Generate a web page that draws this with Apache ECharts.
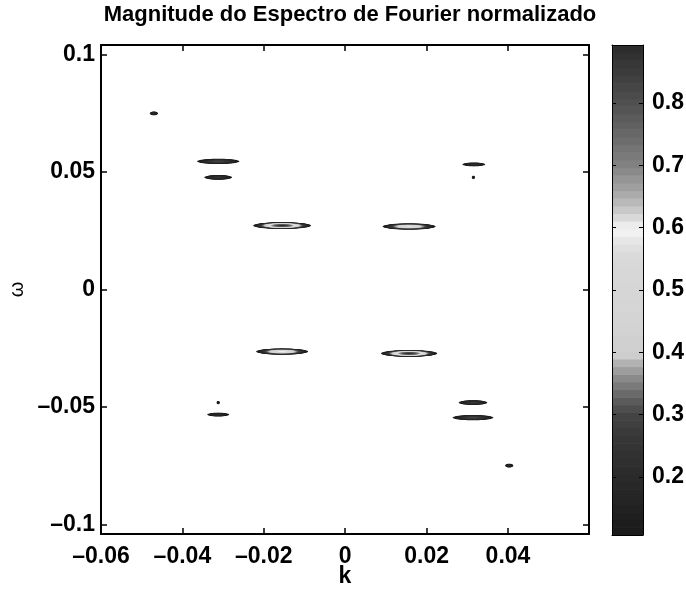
<!DOCTYPE html>
<html><head><meta charset="utf-8">
<script src="https://cdn.jsdelivr.net/npm/echarts@6/dist/echarts.min.js"></script>
<style>html,body{margin:0;padding:0;background:#fff}#c{width:686px;height:589px}</style>
</head><body><div id="c"></div>
<script>
// Spectral peaks: centre (k, omega), half-extent at lowest contour, peak magnitude
const blobK     = [-0.0155, 0.0157, -0.0155, 0.0157, -0.0312, 0.0314, -0.0312, 0.0314, 0.0316, -0.0312, 0.0315, -0.0312, -0.0470, 0.0403];
const blobW     = [ 0.0272, 0.0268, -0.0264, -0.0272, 0.0545, -0.0545, 0.0477, -0.0481, 0.0532, -0.0532, 0.0477, -0.0481, 0.0749, -0.0749];
const blobHalfK = [ 0.0071, 0.0065, 0.0064, 0.0069, 0.0052, 0.0050, 0.0034, 0.0035, 0.0028, 0.0027, 0.0004, 0.0004, 0.0010, 0.0010];
const blobHalfW = [ 0.0014, 0.0013, 0.0013, 0.0014, 0.0011, 0.0011, 0.0010, 0.0010, 0.0008, 0.0008, 0.0007, 0.0007, 0.0008, 0.0008];
const blobPeak  = [ 0.89, 0.58, 0.60, 0.89, 0.30, 0.30, 0.24, 0.26, 0.20, 0.20, 0.14, 0.14, 0.18, 0.18];

const xTicks = [-0.06, -0.04, -0.02, 0, 0.02, 0.04];
const yTicks = [-0.1, -0.05, 0, 0.05, 0.1];
const cbTicks = [0.2, 0.3, 0.4, 0.5, 0.6, 0.7, 0.8];
const cbMin = 0.107, cbMax = 0.893;
const xMin = -0.06, xMax = 0.0599, yMin = -0.104, yMax = 0.104;

// gray colormap (value -> gray level)
const cmapV = [0.107, 0.2, 0.26, 0.3, 0.33, 0.36, 0.38, 0.395, 0.45, 0.55, 0.575, 0.59, 0.605, 0.62, 0.64, 0.66, 0.70, 0.75, 0.80, 0.85, 0.893];
const cmapG = [26, 42, 54, 68, 100, 140, 170, 205, 212, 216, 226, 242, 236, 212, 186, 164, 130, 104, 80, 60, 42];
const NB = 64;
const step = (cbMax - cbMin) / NB;

function grayAt(v) {
  if (v <= cmapV[0]) return cmapG[0];
  for (let i = 1; i < cmapV.length; i++) {
    if (v <= cmapV[i]) {
      const t = (v - cmapV[i - 1]) / (cmapV[i] - cmapV[i - 1]);
      return cmapG[i - 1] + t * (cmapG[i] - cmapG[i - 1]);
    }
  }
  return cmapG[cmapG.length - 1];
}
const bandColor = [];
for (let j = 0; j < NB; j++) {
  const g = Math.round(grayAt(cbMin + (j + 0.5) * step));
  bandColor.push('rgb(' + g + ',' + g + ',' + g + ')');
}
const fmt = v => (v < 0 ? '\u2013' : '') + String(+Math.abs(v).toFixed(4));
const font = '"Liberation Sans", Arial, Helvetica, sans-serif';

function renderBlob(params, api) {
  const i = api.value(2);
  const ck = blobK[i], cw = blobW[i], hk = blobHalfK[i], hw = blobHalfW[i], P = blobPeak[i];
  const denom = Math.log(P / cbMin);
  const children = [];
  const NP = 48;
  for (let j = 0; j < NB; j++) {
    const L = cbMin + j * step;
    if (L >= P) break;
    const r = Math.sqrt(Math.log(P / L) / denom);
    const pts = [];
    for (let t = 0; t < NP; t++) {
      const a = 2 * Math.PI * t / NP;
      pts.push(api.coord([ck + hk * r * Math.cos(a), cw + hw * r * Math.sin(a)]));
    }
    children.push({ type: 'polygon', shape: { points: pts }, style: { fill: bandColor[j], stroke: null } });
  }
  return { type: 'group', children };
}
function renderBand(params, api) {
  const j = api.value(2);
  const p0 = api.coord([0, cbMin + j * step]);
  const p1 = api.coord([1, cbMin + (j + 1) * step]);
  return { type: 'rect', shape: { x: p0[0], y: p1[1], width: p1[0] - p0[0], height: p0[1] - p1[1] + 0.6 },
           style: { fill: bandColor[j], stroke: null } };
}

const labelStyle = { fontSize: 23, fontWeight: 'bold', color: '#000', fontFamily: font };
const axLine = { show: true, onZero: false, lineStyle: { color: '#000', width: 2 } };
const tickIn = vals => ({ show: true, inside: true, length: 6, customValues: vals, lineStyle: { color: '#000', width: 1.5 } });

const chart = echarts.init(document.getElementById('c'), null, { renderer: 'canvas' });
chart.setOption({
  animation: false,
  backgroundColor: '#fff',
  title: { text: 'Magnitude do Espectro de Fourier normalizado', left: 345, textAlign: 'center', top: -1,
           textStyle: { fontSize: 22, fontWeight: 'bold', color: '#000', fontFamily: font } },
  grid: [
    { left: 101, top: 45, width: 488, height: 489, outerBoundsMode: 'none', containLabel: false },
    { left: 612, top: 45, width: 31, height: 490, outerBoundsMode: 'none', containLabel: false }
  ],
  xAxis: [
    { gridIndex: 0, type: 'value', min: xMin, max: xMax, position: 'bottom', z: 10,
      axisLine: axLine, axisTick: tickIn(xTicks), splitLine: { show: false },
      axisLabel: Object.assign({ customValues: xTicks, formatter: fmt, margin: 11, showMaxLabel: true, showMinLabel: true }, labelStyle),
      name: 'k', nameLocation: 'middle', nameGap: 31, nameMoveOverlap: false, nameTextStyle: labelStyle },
    { gridIndex: 0, type: 'value', min: xMin, max: xMax, position: 'top', z: 10,
      axisLine: axLine, axisTick: tickIn(xTicks), axisLabel: { show: false }, splitLine: { show: false } },
    { gridIndex: 1, type: 'value', min: 0, max: 1, position: 'bottom', z: 10,
      axisLine: { show: true, lineStyle: { color: '#000', width: 1 } }, axisTick: { show: false }, axisLabel: { show: false }, splitLine: { show: false } },
    { gridIndex: 1, type: 'value', min: 0, max: 1, position: 'top', z: 10,
      axisLine: { show: true, lineStyle: { color: '#000', width: 1 } }, axisTick: { show: false }, axisLabel: { show: false }, splitLine: { show: false } }
  ],
  yAxis: [
    { gridIndex: 0, type: 'value', min: yMin, max: yMax, position: 'left', z: 10,
      axisLine: axLine, axisTick: tickIn(yTicks), splitLine: { show: false },
      axisLabel: Object.assign({ customValues: yTicks, formatter: fmt, margin: 6 }, labelStyle),
      name: '\u03c9', nameLocation: 'middle', nameGap: 74, nameRotate: 90, nameMoveOverlap: false,
      nameTextStyle: { fontSize: 20, color: '#000', fontFamily: font } },
    { gridIndex: 0, type: 'value', min: yMin, max: yMax, position: 'right', z: 10,
      axisLine: axLine, axisTick: tickIn(yTicks), axisLabel: { show: false }, splitLine: { show: false } },
    { gridIndex: 1, type: 'value', min: cbMin, max: cbMax, position: 'left', z: 10,
      axisLine: { show: true, onZero: false, lineStyle: { color: '#000', width: 1 } },
      axisTick: { show: true, inside: true, length: 4, customValues: cbTicks, lineStyle: { color: '#000', width: 1 } },
      axisLabel: { show: false }, splitLine: { show: false } },
    { gridIndex: 1, type: 'value', min: cbMin, max: cbMax, position: 'right', z: 10,
      axisLine: { show: true, onZero: false, lineStyle: { color: '#000', width: 1 } },
      axisTick: { show: true, inside: true, length: 4, customValues: cbTicks, lineStyle: { color: '#000', width: 1 } },
      axisLabel: Object.assign({ customValues: cbTicks, margin: 9 }, labelStyle), splitLine: { show: false } }
  ],
  series: [
    { type: 'custom', xAxisIndex: 0, yAxisIndex: 0, renderItem: renderBlob, silent: true, clip: true,
      encode: { x: 0, y: 1 }, data: blobK.map((k, i) => [k, blobW[i], i]) },
    { type: 'custom', xAxisIndex: 2, yAxisIndex: 2, renderItem: renderBand, silent: true,
      encode: { x: 0, y: 1 }, data: bandColor.map((c, j) => [0.5, cbMin + (j + 0.5) * step, j]) }
  ]
});
</script></body></html>
